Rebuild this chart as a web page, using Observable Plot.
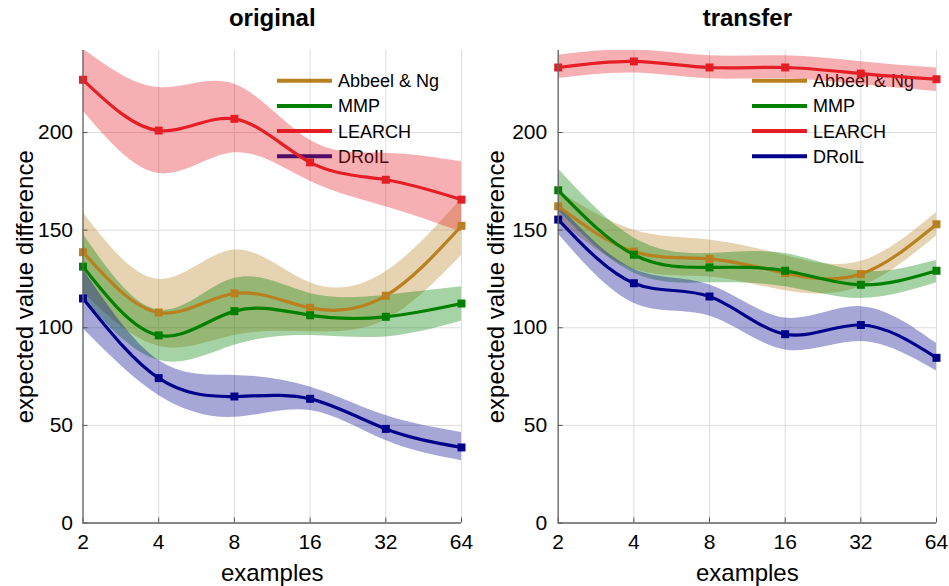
<!DOCTYPE html>
<html>
<head>
<meta charset="utf-8">
<script src="https://cdn.jsdelivr.net/npm/d3@7"></script>
<script src="https://cdn.jsdelivr.net/npm/@observablehq/plot@0.6"></script>
<style>
  html, body { margin: 0; padding: 0; background: #fff; }
  #wrap { position: relative; width: 949px; height: 586px; overflow: hidden; font-family: "Liberation Sans", Arial, sans-serif; }
  #wrap > div { position: absolute; top: 0; }
</style>
</head>
<body>
<div id="wrap"><div id="left" style="left:0"></div><div id="right" style="left:475px"></div></div>
<script>
// ---- data ----
const examples = [2, 4, 8, 16, 32, 64];
const xTicks = [2, 4, 8, 16, 32, 64];
const yTicks = [0, 50, 100, 150, 200];
const seriesNames = ["Abbeel & Ng", "MMP", "LEARCH", "DRoIL"];
const seriesColors = ["#B8801F", "#008000", "#E41E24", "#00008B"];
const panelTitles = ["original", "transfer"];
const xLabel = "examples";
const yLabel = "expected value difference";

// original
const abbeelOrig   = [138.7, 107.8, 117.6, 110.2, 116.4, 152.2];
const abbeelOrigLo = [118, 90.5, 96, 98, 104, 137];
const abbeelOrigHi = [159, 124.8, 139.8, 123, 128.7, 166];
const mmpOrig      = [131.3, 96.1, 108.5, 106.4, 105.6, 112.4];
const mmpOrigLo    = [115, 83.3, 91, 96, 95.3, 103.3];
const mmpOrigHi    = [148, 109, 125.3, 117.6, 116.7, 121];
const learchOrig   = [227, 201, 207, 184.7, 175.8, 165.6];
const learchOrigLo = [211, 179, 189.6, 175, 162, 149];
const learchOrigHi = [242.7, 223, 224.7, 196, 189.4, 185];
const droilOrig    = [115, 74.2, 64.8, 63.6, 48.2, 38.7];
const droilOrigLo  = [99.6, 65.3, 54.1, 57.6, 42.2, 31.9];
const droilOrigHi  = [130, 83.3, 75.6, 69.6, 55, 46.4];

// transfer
const abbeelTr   = [162.2, 139, 135.3, 128, 127.5, 153];
const abbeelTrLo = [155, 130, 126, 119, 121, 147];
const abbeelTrHi = [170, 150, 145, 137, 134, 159];
const mmpTr      = [170.4, 137.4, 130.9, 129.2, 122, 129.2];
const mmpTrLo    = [160, 128, 123, 121, 115, 123];
const mmpTrHi    = [181.4, 146, 138, 138, 129, 134.5];
const learchTr   = [233.3, 236.4, 233.3, 233.3, 230.2, 227.3];
const learchTrLo = [227.6, 230.5, 227.5, 227.5, 224.4, 221];
const learchTrHi = [239.6, 242.3, 239.3, 239.3, 236.3, 233];
const droilTr    = [155.4, 122.8, 116, 96.7, 101.4, 84.6];
const droilTrLo  = [148, 112.6, 106, 88.6, 92.9, 77.8];
const droilTrHi  = [163, 130, 122, 105, 110.8, 92];

const panels = [
  [[abbeelOrig, abbeelOrigLo, abbeelOrigHi], [mmpOrig, mmpOrigLo, mmpOrigHi], [learchOrig, learchOrigLo, learchOrigHi], [droilOrig, droilOrigLo, droilOrigHi]],
  [[abbeelTr, abbeelTrLo, abbeelTrHi], [mmpTr, mmpTrLo, mmpTrHi], [learchTr, learchTrLo, learchTrHi], [droilTr, droilTrLo, droilTrHi]]
];

function toRows(panel) {
  const rows = [];
  panel.forEach(([m, lo, hi], si) => {
    examples.forEach((x, i) => rows.push({x, y: m[i], lo: lo[i], hi: hi[i], series: seriesNames[si]}));
  });
  return rows;
}

function legendMark(index, scales, values, dimensions) {
  const {width, marginRight, marginTop} = dimensions;
  const right = width - marginRight;
  const g = d3.create("svg:g");
  seriesNames.forEach((s, i) => {
    const y = marginTop + 30.7 + 25.2 * i;
    g.append("line").attr("x1", right - 184).attr("x2", right - 129).attr("y1", y).attr("y2", y)
      .attr("stroke", seriesColors[i]).attr("stroke-width", 4);
    g.append("text").attr("x", right - 123).attr("y", y).attr("dy", "0.36em")
      .attr("text-anchor", "start").style("text-anchor", "start")
      .attr("fill", "#000").style("font-size", "18px").text(s);
  });
  return g.node();
}

function makePanel(pi, opts) {
  const rows = toRows(panels[pi]);
  const W = 474, H = 586;
  const mL = opts.mL, mR = opts.mR, mT = 50, mB = 63.5;
  const plotW = W - mL - mR, plotH = H - mT - mB;
  const colorOpt = {domain: seriesNames, range: seriesColors};
  return Plot.plot({
    width: W, height: H,
    marginLeft: mL, marginRight: mR, marginTop: mT, marginBottom: mB,
    style: {fontFamily: "Liberation Sans, Arial, sans-serif", fontSize: "21px", background: "transparent", overflow: "visible"},
    x: {type: "log", base: 2, domain: [2, 64]},
    y: {domain: [0, 242]},
    color: colorOpt,
    marks: [
      Plot.gridX(xTicks, {stroke: "#dcdcdc", strokeOpacity: 1, strokeWidth: 1}),
      Plot.gridY(yTicks, {stroke: "#dcdcdc", strokeOpacity: 1, strokeWidth: 1}),
      legendMark,
      Plot.areaY(rows, {x: "x", y1: "lo", y2: "hi", z: "series", fill: "series", fillOpacity: 0.35, curve: "natural", clip: "frame"}),
      Plot.line(rows, {x: "x", y: "y", z: "series", stroke: "series", strokeWidth: 3.2, curve: "natural", clip: "frame"}),
      Plot.dot(rows, {x: "x", y: "y", fill: "series", symbol: "square", r: 4.5}),
      Plot.ruleX(xTicks, {x: d => d, insetTop: plotH - 5, stroke: "#555", strokeWidth: 1}),
      Plot.ruleY(yTicks, {y: d => d, insetRight: plotW - 5, stroke: "#555", strokeWidth: 1}),
      Plot.ruleX([2], {stroke: "#666", strokeWidth: 1.3}),
      Plot.ruleY([0], {stroke: "#666", strokeWidth: 1.3}),
      Plot.axisX(xTicks, {tickSize: 0, tickPadding: 11, tickFormat: d => String(d), label: null, fontSize: 21}),
      Plot.axisY(yTicks, {tickSize: 0, tickPadding: opts.yPad, label: null, fontSize: 21}),
      Plot.text([xLabel], {text: d => d, frameAnchor: "bottom", dy: 50, lineAnchor: "middle", fontSize: 24}),
      Plot.text([yLabel], {text: d => d, frameAnchor: "left", dx: -opts.yLabOff, rotate: -90, textAnchor: "middle", lineAnchor: "middle", fontSize: 24}),
      Plot.text([panelTitles[pi]], {text: d => d, frameAnchor: "top", dy: -32, lineAnchor: "middle", fontSize: 24, fontWeight: "bold"})
    ]
  });
}

document.getElementById("left").append(makePanel(0, {mL: 82.5, mR: 13, yPad: 10, yLabOff: 57.5}));
document.getElementById("right").append(makePanel(1, {mL: 82.7, mR: 13, yPad: 11, yLabOff: 62}));
</script>
</body>
</html>
